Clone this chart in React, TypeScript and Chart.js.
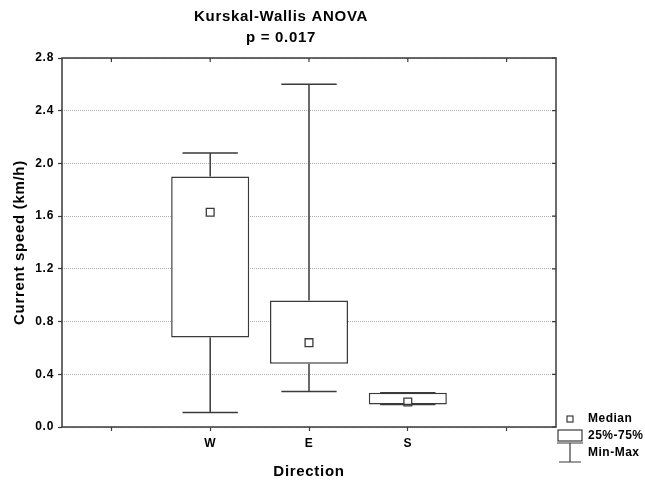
import React, { useEffect, useRef } from "react";
import { Chart, registerables } from "chart.js";

Chart.register(...registerables);

const categories = ["", "W", "E", "S", ""];
const maxValues: (number | null)[] = [null, 2.08, 2.6, 0.26, null];
const q3Values: (number | null)[] = [null, 1.9, 0.96, 0.26, null];
const medianValues: (number | null)[] = [null, 1.63, 0.64, 0.19, null];
const q1Values: (number | null)[] = [null, 0.68, 0.48, 0.17, null];
const minValues: (number | null)[] = [null, 0.11, 0.27, 0.17, null];
const yMin = 0;
const yMax = 2.8;
const yStep = 0.4;
const titleLines = ["Kurskal-Wallis ANOVA", "p = 0.017"];
const xTitle = "Direction";
const yTitle = "Current speed (km/h)";
const legendLabels = ["Median", "25%-75%", "Min-Max"];

const FONT = "'Liberation Sans', Arial, sans-serif";
const LINE = "#3a3a3a";

const spacingPlugin = {
  id: "spacing",
  beforeDraw(chart: any) {
    (chart.ctx as any).letterSpacing = "0.7px";
  },
};

const whiskerPlugin = {
  id: "whiskers",
  afterDatasetsDraw(chart: any) {
    const { ctx, scales } = chart;
    const x = scales.x;
    const y = scales.y;
    const slot = x.getPixelForValue(1) - x.getPixelForValue(0);
    const capHalf = slot * 0.28;
    ctx.save();
    ctx.strokeStyle = LINE;
    ctx.lineWidth = 1.5;
    categories.forEach((_, i) => {
      if (maxValues[i] == null) return;
      const cx = x.getPixelForValue(i);
      const segs: [number, number][] = [
        [q3Values[i] as number, maxValues[i] as number],
        [q1Values[i] as number, minValues[i] as number],
      ];
      segs.forEach(([from, to]) => {
        const y0 = y.getPixelForValue(from);
        const y1 = y.getPixelForValue(to);
        ctx.beginPath();
        ctx.moveTo(cx, y0);
        ctx.lineTo(cx, y1);
        ctx.moveTo(cx - capHalf, y1);
        ctx.lineTo(cx + capHalf, y1);
        ctx.stroke();
      });
    });
    ctx.restore();
  },
};

const framePlugin = {
  id: "frame",
  afterDraw(chart: any) {
    const { ctx, chartArea, scales } = chart;
    const { left, right, top, bottom } = chartArea;
    ctx.save();
    ctx.strokeStyle = LINE;
    ctx.lineWidth = 1.5;
    ctx.strokeRect(left, top, right - left, bottom - top);
    ctx.lineWidth = 1.2;
    ctx.beginPath();
    scales.x.ticks.forEach((_: any, i: number) => {
      const px = scales.x.getPixelForTick(i);
      ctx.moveTo(px, top);
      ctx.lineTo(px, top + 4);
    });
    scales.y.ticks.forEach((_: any, i: number) => {
      const py = scales.y.getPixelForTick(i);
      ctx.moveTo(right, py);
      ctx.lineTo(right - 4, py);
    });
    ctx.stroke();

    // title
    ctx.fillStyle = "#000";
    ctx.textAlign = "center";
    ctx.textBaseline = "middle";
    ctx.letterSpacing = "0.7px";
    ctx.font = `bold 15px ${FONT}`;
    ctx.fillText(titleLines[0], 281, 17);
    ctx.fillText(titleLines[1], 281, 38);

    // legend
    const lx = 570;
    const tx = 588;
    ctx.font = `bold 12px ${FONT}`;
    ctx.letterSpacing = "0.5px";
    ctx.textAlign = "left";
    ctx.lineWidth = 1.2;
    ctx.fillStyle = "#fff";
    ctx.fillRect(lx - 3, 416, 6, 6);
    ctx.strokeRect(lx - 3, 416, 6, 6);
    ctx.fillStyle = "#000";
    ctx.fillText(legendLabels[0], tx, 419);
    ctx.strokeRect(558, 430, 24, 11);
    ctx.fillText(legendLabels[1], tx, 436);
    ctx.beginPath();
    ctx.moveTo(557, 443);
    ctx.lineTo(583, 443);
    ctx.moveTo(lx, 443);
    ctx.lineTo(lx, 462);
    ctx.moveTo(559, 462);
    ctx.lineTo(581, 462);
    ctx.stroke();
    ctx.fillText(legendLabels[2], tx, 453);
    ctx.restore();
  },
};

export default function App() {
  const ref = useRef<HTMLCanvasElement | null>(null);
  useEffect(() => {
    if (!ref.current) return;
    const boxData = categories.map((_, i) =>
      q1Values[i] == null ? null : [q1Values[i], q3Values[i]]
    );
    const chart = new Chart(ref.current, {
      type: "bar",
      data: {
        labels: categories,
        datasets: [
          {
            type: "bar",
            data: boxData as any,
            backgroundColor: "#ffffff",
            borderColor: LINE,
            borderWidth: 1.5,
            borderSkipped: false,
            barPercentage: 0.79,
            categoryPercentage: 1,
            order: 2,
          },
          {
            type: "line",
            data: medianValues as any,
            showLine: false,
            pointStyle: "rect",
            pointRadius: 5.5,
            pointBackgroundColor: "#ffffff",
            pointBorderColor: LINE,
            pointBorderWidth: 1.3,
            order: 1,
          },
        ],
      },
      options: {
        animation: false,
        responsive: false,
        layout: { padding: { left: 0, right: 89, top: 58, bottom: 0 } },
        plugins: {
          legend: { display: false },
          tooltip: { enabled: false },
          title: { display: false },
        },
        scales: {
          x: {
            type: "category",
            offset: true,
            afterFit: (s: any) => {
              s.height = 54;
            },
            grid: {
              drawOnChartArea: false,
              tickLength: 4,
              tickColor: LINE,
              tickWidth: 1.2,
              offset: false,
            },
            border: { display: false },
            ticks: {
              autoSkip: false,
              maxRotation: 0,
              padding: 5,
              color: "#000",
              font: { family: FONT, size: 12, weight: "bold" },
            },
            title: {
              display: true,
              text: xTitle,
              color: "#000",
              font: { family: FONT, size: 15, weight: "bold" },
              padding: { top: 0, bottom: 0 },
            },
          },
          y: {
            min: yMin,
            max: yMax,
            afterFit: (s: any) => {
              s.width = 62;
            },
            grid: {
              color: "#b0b0b0",
              lineWidth: 1,
              tickLength: 4,
              tickColor: LINE,
              tickWidth: 1.2,
              tickBorderDash: [],
            },
            border: { display: false, dash: [1, 1] },
            ticks: {
              stepSize: yStep,
              padding: 4,
              color: "#000",
              font: { family: FONT, size: 12, weight: "bold" },
              callback: (v: any) => Number(v).toFixed(1),
            },
            title: {
              display: true,
              text: yTitle,
              color: "#000",
              font: { family: FONT, size: 15, weight: "bold" },
              padding: { top: 10.5, bottom: 0 },
            },
          },
        },
      },
      plugins: [spacingPlugin, whiskerPlugin, framePlugin],
    } as any);
    return () => chart.destroy();
  }, []);
  return (
    <div style={{ position: "fixed", left: 0, top: 0, width: 645, height: 481, background: "#fff" }}>
      <canvas ref={ref} width={645} height={481} style={{ display: "block" }} />
    </div>
  );
}
